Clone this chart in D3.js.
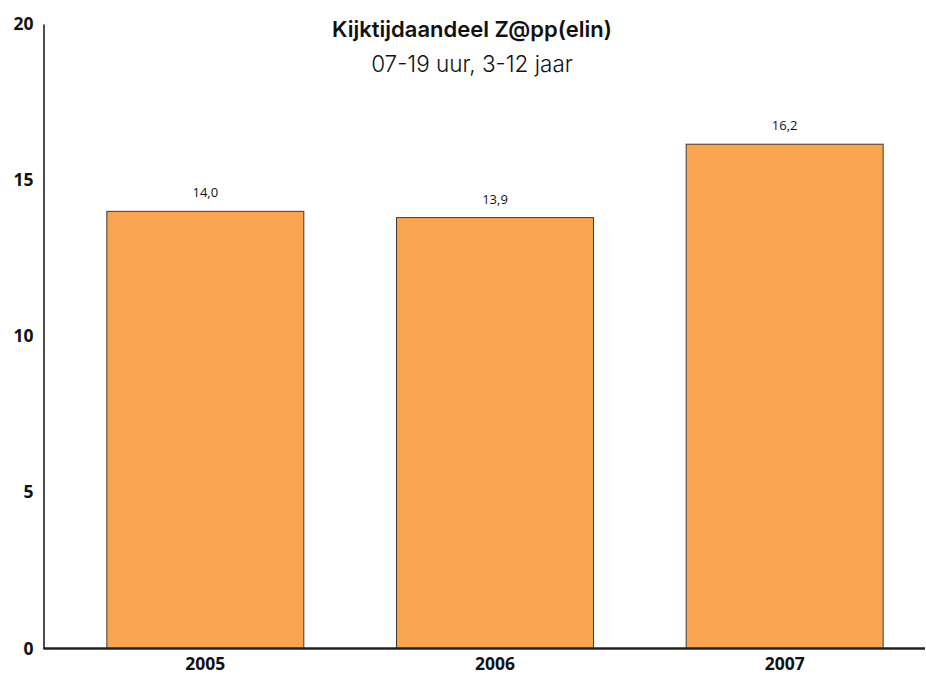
<!DOCTYPE html>
<html>
<head>
<meta charset="utf-8">
<script src="https://cdn.jsdelivr.net/npm/d3@7.9.0/dist/d3.min.js"></script>
<style>
  body { margin: 0; background: #fff; }
  svg { display: block; }
</style>
</head>
<body>
<svg id="chart"></svg>
<script>
// chart data
const years = ["2005", "2006", "2007"];
const shares = [14.0, 13.8, 16.15];
const shareLabels = ["14,0", "13,9", "16,2"];
const yTicks = [0, 5, 10, 15, 20];

const width = 926, height = 681;
const svg = d3.select("#chart").attr("width", width).attr("height", height);

const y = d3.scaleLinear().domain([0, 20]).range([648.5, 24]);
const x = d3.scaleBand()
    .domain(years)
    .range([60.5, 929.5])
    .paddingInner(0.32)
    .paddingOuter(0.16);

// bars
svg.selectAll("rect.bar")
    .data(years)
    .enter()
    .append("rect")
    .attr("class", "bar")
    .attr("x", d => x(d))
    .attr("y", (d, i) => y(shares[i]))
    .attr("width", x.bandwidth())
    .attr("height", (d, i) => y(0) - y(shares[i]))
    .attr("fill", "#F8A451")
    .attr("stroke", "#3a3a3a")
    .attr("stroke-width", 1);

// value labels
svg.selectAll("text.val")
    .data(years)
    .enter()
    .append("text")
    .attr("x", d => x(d) + x.bandwidth() / 2)
    .attr("y", (d, i) => y(shares[i]) - 14)
    .attr("text-anchor", "middle")
    .style("font-family", "'Open Sans', sans-serif")
    .style("font-size", "13px")
    .style("fill", "#111")
    .text((d, i) => shareLabels[i]);

// y axis
const yAxis = d3.axisLeft(y).tickValues(yTicks).tickSize(0).tickPadding(10);
const gy = svg.append("g").attr("transform", "translate(43.5,0)").call(yAxis);
gy.select(".domain").attr("stroke", "#111").attr("stroke-width", 1.5);
gy.selectAll("text")
    .style("font-family", "'Open Sans', sans-serif")
    .style("font-weight", "bold")
    .style("font-size", "17.5px")
    .style("fill", "#111");

// x axis
const xAxis = d3.axisBottom(x).tickSize(0).tickPadding(9);
const gx = svg.append("g").attr("transform", `translate(0,${y(0)})`).call(xAxis);
gx.select(".domain").remove();
gx.append("line")
    .attr("x1", 43.5).attr("x2", 925)
    .attr("stroke", "#222").attr("stroke-width", 2.5);
gx.selectAll("text")
    .style("font-family", "'Open Sans', sans-serif")
    .style("font-weight", "bold")
    .style("font-size", "17.5px")
    .style("fill", "#111");

// title
svg.append("text")
    .attr("x", 472).attr("y", 37)
    .attr("text-anchor", "middle")
    .style("font-family", "Inter, sans-serif")
    .style("font-weight", "600")
    .style("font-size", "22px")
    .style("fill", "#111")
    .text("Kijktijdaandeel Z@pp(elin)");

svg.append("text")
    .attr("x", 472).attr("y", 72)
    .attr("text-anchor", "middle")
    .style("font-family", "Inter, sans-serif")
    .style("font-weight", "300")
    .style("font-size", "22.5px")
    .style("fill", "#111")
    .text("07-19 uur, 3-12 jaar");
</script>
</body>
</html>
